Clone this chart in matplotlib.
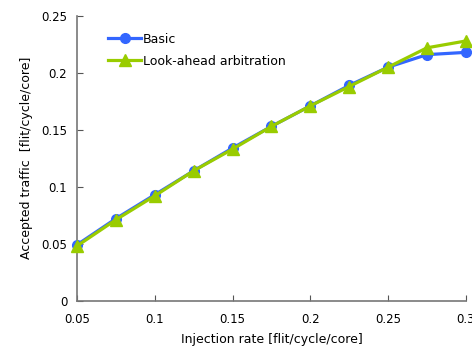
import matplotlib
matplotlib.use("Agg")
import matplotlib.pyplot as plt

injection = [0.05, 0.075, 0.1, 0.125, 0.15, 0.175, 0.2, 0.225, 0.25, 0.275, 0.3]
basic = [0.049, 0.072, 0.093, 0.114, 0.134, 0.153, 0.171, 0.189, 0.205, 0.216, 0.218]
lookahead = [0.048, 0.071, 0.092, 0.114, 0.133, 0.153, 0.171, 0.188, 0.205, 0.222, 0.228]

plt.rcParams['font.family'] = ['DejaVu Sans']

fig = plt.figure(figsize=(4.72, 3.46), dpi=100)
ax = fig.add_axes([0.163, 0.131, 0.824, 0.823])

ax.plot(injection, basic, color='#3366FF', lw=2.3, marker='o', ms=7,
        label='Basic', clip_on=False, zorder=3)
ax.plot(injection, lookahead, color='#99CC00', lw=2.3, marker='^', ms=8,
        label='Look-ahead arbitration', clip_on=False, zorder=4)

ax.set_xlim(0.05, 0.3)
ax.set_ylim(0, 0.25)
ax.set_xticks([0.05, 0.1, 0.15, 0.2, 0.25, 0.3])
ax.set_xticklabels(['0.05', '0.1', '0.15', '0.2', '0.25', '0.3'])
ax.set_yticks([0, 0.05, 0.1, 0.15, 0.2, 0.25])
ax.set_yticklabels(['0', '0.05', '0.1', '0.15', '0.2', '0.25'])

for s in ['top', 'right']:
    ax.spines[s].set_visible(False)
for s in ['left', 'bottom']:
    ax.spines[s].set_color('#777777')
    ax.spines[s].set_linewidth(1.2)
ax.tick_params(direction='in', length=4, color='#555555', labelsize=8.5)
ax.tick_params(axis='x', pad=9)
ax.tick_params(axis='y', pad=7)

ax.set_xlabel('Injection rate [flit/cycle/core]', fontsize=9, labelpad=5)
ax.set_ylabel('Accepted traffic  [flit/cycle/core]', fontsize=9, labelpad=6)

ax.legend(loc='upper left', bbox_to_anchor=(0.05, 0.98), frameon=False,
          fontsize=9, handlelength=2.7, handletextpad=0.1, labelspacing=0.7)

fig.savefig('out.png', dpi=100)
